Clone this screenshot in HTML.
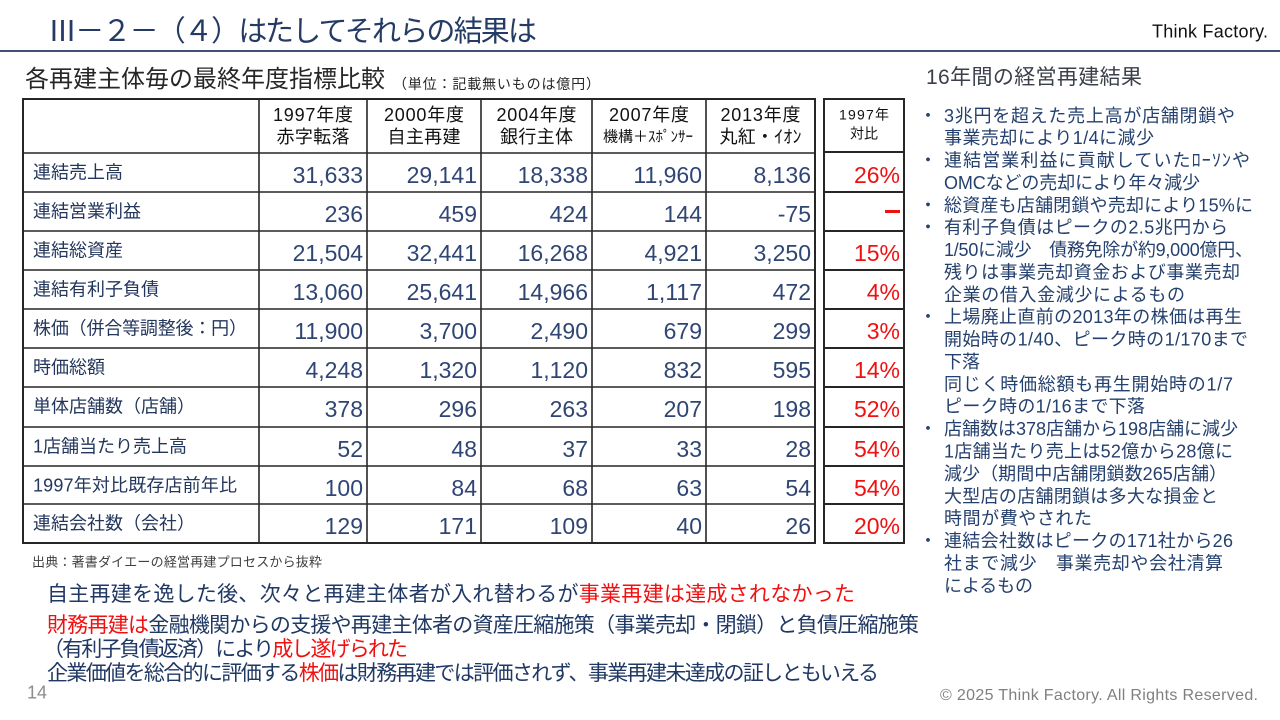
<!DOCTYPE html>
<html>
<head>
<meta charset="utf-8">
<style>
html,body{margin:0;padding:0;background:#ffffff;width:1280px;height:720px;overflow:hidden}
svg{display:block}
</style>
</head>
<body>
<svg width="1280" height="720" viewBox="0 0 1280 720" xmlns="http://www.w3.org/2000/svg" font-family="'Liberation Sans','Noto Sans CJK JP',sans-serif">
<rect width="1280" height="720" fill="#ffffff"/>

<!-- Header -->
<text x="48" y="41" font-size="29" fill="#243B66" textLength="489" lengthAdjust="spacing">Ⅲ－２－（４）はたしてそれらの結果は</text>
<text x="1152" y="37.5" font-size="18" fill="#111111" textLength="116" lengthAdjust="spacing">Think Factory.</text>
<line x1="0" y1="51" x2="1280" y2="51" stroke="#3E5378" stroke-width="2"/>

<!-- Subtitle -->
<text x="25" y="87" font-size="24" fill="#262626" textLength="360" lengthAdjust="spacing">各再建主体毎の最終年度指標比較</text>
<text x="393" y="89" font-size="14" fill="#262626" textLength="207" lengthAdjust="spacing">（単位：記載無いものは億円）</text>

<!-- Right heading -->
<text x="926" y="84" font-size="21" fill="#3A3F4A" textLength="216" lengthAdjust="spacing">16年間の経営再建結果</text>

<!-- Main table grid -->
<g stroke="#262626" stroke-width="1.6" fill="none">
  <rect x="23" y="99" width="792" height="444" stroke-width="2"/>
  <line x1="259" y1="99" x2="259" y2="543"/>
  <line x1="367" y1="99" x2="367" y2="543"/>
  <line x1="481" y1="99" x2="481" y2="543"/>
  <line x1="592" y1="99" x2="592" y2="543"/>
  <line x1="706" y1="99" x2="706" y2="543"/>
  <line x1="23" y1="153" x2="815" y2="153"/>
  <line x1="23" y1="192" x2="815" y2="192"/>
  <line x1="23" y1="231" x2="815" y2="231"/>
  <line x1="23" y1="270" x2="815" y2="270"/>
  <line x1="23" y1="309" x2="815" y2="309"/>
  <line x1="23" y1="348" x2="815" y2="348"/>
  <line x1="23" y1="387" x2="815" y2="387"/>
  <line x1="23" y1="427" x2="815" y2="427"/>
  <line x1="23" y1="466" x2="815" y2="466"/>
  <line x1="23" y1="504" x2="815" y2="504"/>
</g>

<!-- Ratio table grid -->
<g stroke="#262626" stroke-width="2" fill="none">
  <rect x="824" y="99" width="80" height="444"/>
  <line x1="824" y1="152" x2="904" y2="152"/>
  <line x1="824" y1="192" x2="904" y2="192"/>
  <line x1="824" y1="231" x2="904" y2="231"/>
  <line x1="824" y1="270" x2="904" y2="270"/>
  <line x1="824" y1="309" x2="904" y2="309"/>
  <line x1="824" y1="348" x2="904" y2="348"/>
  <line x1="824" y1="387" x2="904" y2="387"/>
  <line x1="824" y1="427" x2="904" y2="427"/>
  <line x1="824" y1="466" x2="904" y2="466"/>
  <line x1="824" y1="504" x2="904" y2="504"/>
</g>

<!-- Table header text -->
<g font-size="18" fill="#111111" text-anchor="middle">
  <text x="313" y="120.8" textLength="80" lengthAdjust="spacing">1997年度</text>
  <text x="313" y="142.8" textLength="73" lengthAdjust="spacing">赤字転落</text>
  <text x="424" y="120.8" textLength="80" lengthAdjust="spacing">2000年度</text>
  <text x="424" y="142.8" textLength="73" lengthAdjust="spacing">自主再建</text>
  <text x="536.5" y="120.8" textLength="80" lengthAdjust="spacing">2004年度</text>
  <text x="536.5" y="142.8" textLength="73" lengthAdjust="spacing">銀行主体</text>
  <text x="649" y="120.8" textLength="80" lengthAdjust="spacing">2007年度</text>
  <text x="648" y="141.5" font-size="15" textLength="90" lengthAdjust="spacing">機構＋ｽﾎﾟﾝｻｰ</text>
  <text x="760.5" y="120.8" textLength="80" lengthAdjust="spacing">2013年度</text>
  <text x="760.5" y="142.8" textLength="82" lengthAdjust="spacing">丸紅・ｲｵﾝ</text>
  <text x="864" y="119.3" font-size="14" textLength="50" lengthAdjust="spacing">1997年</text>
  <text x="864" y="138.5" font-size="14">対比</text>
</g>

<!-- Row labels -->
<g font-size="18" fill="#23365C">
  <text x="33" y="178.3">連結売上高</text>
  <text x="33" y="217.3">連結営業利益</text>
  <text x="33" y="256.3">連結総資産</text>
  <text x="33" y="295.3">連結有利子負債</text>
  <text x="33" y="334.3" textLength="214" lengthAdjust="spacing">株価（併合等調整後：円）</text>
  <text x="33" y="373.3">時価総額</text>
  <text x="33" y="412.3">単体店舗数（店舗）</text>
  <text x="33" y="452.3">1店舗当たり売上高</text>
  <text x="33" y="491.3" textLength="204" lengthAdjust="spacing">1997年対比既存店前年比</text>
  <text x="33" y="529.3">連結会社数（会社）</text>
</g>

<!-- Numbers -->
<g font-size="23" fill="#2F4574" text-anchor="end">
  <text x="363" y="183">31,633</text><text x="477" y="183">29,141</text><text x="588" y="183">18,338</text><text x="702" y="183">11,960</text><text x="811" y="183">8,136</text>
  <text x="363" y="222">236</text><text x="477" y="222">459</text><text x="588" y="222">424</text><text x="702" y="222">144</text><text x="811" y="222">-75</text>
  <text x="363" y="261">21,504</text><text x="477" y="261">32,441</text><text x="588" y="261">16,268</text><text x="702" y="261">4,921</text><text x="811" y="261">3,250</text>
  <text x="363" y="300">13,060</text><text x="477" y="300">25,641</text><text x="588" y="300">14,966</text><text x="702" y="300">1,117</text><text x="811" y="300">472</text>
  <text x="363" y="339">11,900</text><text x="477" y="339">3,700</text><text x="588" y="339">2,490</text><text x="702" y="339">679</text><text x="811" y="339">299</text>
  <text x="363" y="378">4,248</text><text x="477" y="378">1,320</text><text x="588" y="378">1,120</text><text x="702" y="378">832</text><text x="811" y="378">595</text>
  <text x="363" y="417">378</text><text x="477" y="417">296</text><text x="588" y="417">263</text><text x="702" y="417">207</text><text x="811" y="417">198</text>
  <text x="363" y="457">52</text><text x="477" y="457">48</text><text x="588" y="457">37</text><text x="702" y="457">33</text><text x="811" y="457">28</text>
  <text x="363" y="496">100</text><text x="477" y="496">84</text><text x="588" y="496">68</text><text x="702" y="496">63</text><text x="811" y="496">54</text>
  <text x="363" y="534">129</text><text x="477" y="534">171</text><text x="588" y="534">109</text><text x="702" y="534">40</text><text x="811" y="534">26</text>
</g>

<!-- Ratios -->
<g font-size="23" fill="#F01010" text-anchor="end">
  <text x="900" y="183">26%</text>
  <text x="900" y="261">15%</text>
  <text x="900" y="300">4%</text>
  <text x="900" y="339">3%</text>
  <text x="900" y="378">14%</text>
  <text x="900" y="417">52%</text>
  <text x="900" y="457">54%</text>
  <text x="900" y="496">54%</text>
  <text x="900" y="534">20%</text>
</g>
<rect x="885" y="210" width="15" height="3" fill="#F01010"/>

<!-- Source -->
<text x="32" y="566.5" font-size="13" fill="#404040" textLength="290" lengthAdjust="spacing">出典：著書ダイエーの経営再建プロセスから抜粋</text>

<!-- Bottom conclusions -->
<g font-size="21" fill="#203864">
  <text x="47" y="601" textLength="808" lengthAdjust="spacing">自主再建を逸した後、次々と再建主体者が入れ替わるが<tspan fill="#F01010">事業再建は達成されなかった</tspan></text>
  <text x="47" y="632" textLength="872" lengthAdjust="spacing"><tspan fill="#F01010">財務再建は</tspan>金融機関からの支援や再建主体者の資産圧縮施策（事業売却・閉鎖）と負債圧縮施策</text>
  <text x="43" y="656" textLength="365" lengthAdjust="spacing">（有利子負債返済）により<tspan fill="#F01010">成し遂げられた</tspan></text>
  <text x="47" y="680" textLength="832" lengthAdjust="spacing">企業価値を総合的に評価する<tspan fill="#F01010">株価</tspan>は財務再建では評価されず、事業再建未達成の証しともいえる</text>
</g>

<!-- Right column bullets -->
<g font-size="18" fill="#24406E">
  <text x="919" y="121.8">・</text>
  <text x="944" y="121.8" textLength="291" lengthAdjust="spacing">3兆円を超えた売上高が店舗閉鎖や</text>
  <text x="944" y="144.2" textLength="210" lengthAdjust="spacing">事業売却により1/4に減少</text>
  <text x="919" y="166.6">・</text>
  <text x="944" y="166.6" textLength="306" lengthAdjust="spacing">連結営業利益に貢献していたﾛｰｿﾝや</text>
  <text x="944" y="188.9" textLength="256" lengthAdjust="spacing">OMCなどの売却により年々減少</text>
  <text x="919" y="211.3">・</text>
  <text x="944" y="211.3" textLength="309" lengthAdjust="spacing">総資産も店舗閉鎖や売却により15%に</text>
  <text x="919" y="233.7">・</text>
  <text x="944" y="233.7" textLength="284" lengthAdjust="spacing">有利子負債はピークの2.5兆円から</text>
  <text x="944" y="256.1" textLength="309" lengthAdjust="spacing">1/50に減少　債務免除が約9,000億円、</text>
  <text x="944" y="278.5" textLength="296" lengthAdjust="spacing">残りは事業売却資金および事業売却</text>
  <text x="944" y="300.8" textLength="241" lengthAdjust="spacing">企業の借入金減少によるもの</text>
  <text x="919" y="323.2">・</text>
  <text x="944" y="323.2" textLength="298" lengthAdjust="spacing">上場廃止直前の2013年の株価は再生</text>
  <text x="944" y="345.6" textLength="304" lengthAdjust="spacing">開始時の1/40、ピーク時の1/170まで</text>
  <text x="944" y="368.0">下落</text>
  <text x="944" y="390.4" textLength="289" lengthAdjust="spacing">同じく時価総額も再生開始時の1/7</text>
  <text x="944" y="412.7" textLength="201" lengthAdjust="spacing">ピーク時の1/16まで下落</text>
  <text x="919" y="435.1">・</text>
  <text x="944" y="435.1" textLength="294" lengthAdjust="spacing">店舗数は378店舗から198店舗に減少</text>
  <text x="944" y="457.5" textLength="289" lengthAdjust="spacing">1店舗当たり売上は52億から28億に</text>
  <text x="944" y="479.9" textLength="283" lengthAdjust="spacing">減少（期間中店舗閉鎖数265店舗）</text>
  <text x="944" y="502.3" textLength="274" lengthAdjust="spacing">大型店の店舗閉鎖は多大な損金と</text>
  <text x="944" y="524.6" textLength="148" lengthAdjust="spacing">時間が費やされた</text>
  <text x="919" y="547.0">・</text>
  <text x="944" y="547.0" textLength="289" lengthAdjust="spacing">連結会社数はピークの171社から26</text>
  <text x="944" y="569.4" textLength="279" lengthAdjust="spacing">社まで減少　事業売却や会社清算</text>
  <text x="944" y="591.8" textLength="89" lengthAdjust="spacing">によるもの</text>
</g>

<!-- Footer -->
<text x="27" y="698.5" font-size="18" fill="#8C8C8C">14</text>
<text x="940" y="700" font-size="16" fill="#7F7F7F" textLength="318" lengthAdjust="spacing">© 2025 Think Factory. All Rights Reserved.</text>
</svg>
</body>
</html>
